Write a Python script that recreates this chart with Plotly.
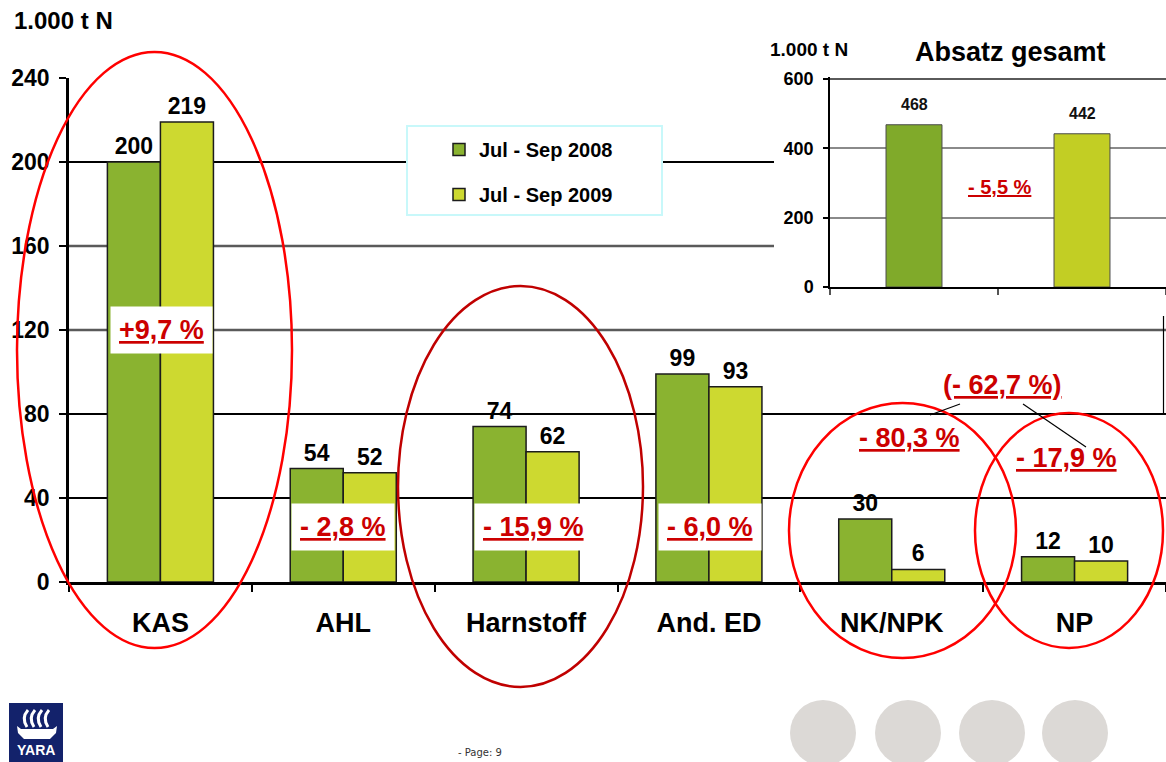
import plotly.graph_objects as go

W, H = 1166, 762
FONT = "Liberation Sans, Arial, sans-serif"

# --- data -------------------------------------------------------------
categories = ["KAS", "AHL", "Harnstoff", "And. ED", "NK/NPK", "NP"]
q3_2008 = [200, 54, 74, 99, 30, 12]
q3_2009 = [219, 52, 62, 93, 6, 10]
series_names = ["Jul - Sep 2008", "Jul - Sep 2009"]

total_periods = ["Q3 2008", "Q3 2009"]
total_sales = [468, 442]

main_ticks = [0, 40, 80, 120, 160, 200, 240]
total_ticks = [0, 200, 400, 600]

boxed_changes = ["+9,7 %", "- 2,8 %", "- 15,9 %", "- 6,0 %"]
npk_changes = ["- 80,3 %", "(- 62,7 %)", "- 17,9 %"]
total_change = "- 5,5 %"

# --- styling ----------------------------------------------------------
C08, C09 = "#8AB330", "#CDD930"
IC08, IC09 = "#80AA2A", "#C2CE24"
RED_TXT = "#CC0000"


def fx(x):
    """pixel column -> paper x"""
    return x / W


def fy(y):
    """pixel row (from top) -> paper y"""
    return 1 - y / H


bold = dict(family=FONT, color="black", weight="bold")

fig = go.Figure()

for vals, name, col, grp in [(q3_2008, series_names[0], C08, "a"),
                             (q3_2009, series_names[1], C09, "b")]:
    fig.add_bar(
        x=categories, y=vals, name=name, legendgroup=grp,
        marker=dict(color=col, line=dict(color="#1c1c1c", width=1.5)),
        text=vals, textposition="outside", constraintext="none",
        textfont=dict(bold, size=23), cliponaxis=False, hoverinfo="skip",
    )

# blank panel that hides the main grid behind the small chart
fig.add_scatter(x=[0], y=[0], xaxis="x2", yaxis="y2", mode="markers",
                marker=dict(opacity=0), showlegend=False, hoverinfo="skip")

# small chart: total sales
fig.add_bar(
    x=total_periods, y=total_sales, xaxis="x3", yaxis="y3", width=0.333,
    marker=dict(color=[IC08, IC09], line=dict(color="#4a4a4a", width=1)),
    showlegend=False, hoverinfo="skip",
)

# small chart: 600 sits at pixel row 79, 0 at row 287 (range padded slightly)
inset_top_val = 606
inset_top_px = 287 - (287 - 79) * inset_top_val / 600
inset_600_px = 287 - (287 - 79) * total_ticks[-1] / 600

shapes = []

# grey tone for two of the main grid lines
for gy in (120, 160):
    shapes.append(dict(type="line", xref="x", yref="y", x0=-0.5, x1=5.5,
                       y0=gy, y1=gy, layer="between",
                       line=dict(color="#5a5a5a", width=2.5)))

# darker top grid line of the small chart
shapes.append(dict(type="line", xref="paper", yref="paper",
                   x0=fx(830), x1=1, y0=fy(inset_600_px), y1=fy(inset_600_px),
                   layer="above", line=dict(color="#5a5a5a", width=2)))

# legend frame
shapes.append(dict(type="rect", xref="paper", yref="paper",
                   x0=fx(407), x1=fx(662), y0=fy(215), y1=fy(126),
                   fillcolor="white", line=dict(color="#c8f8fa", width=2),
                   layer="above"))

# highlight ellipses (pixel boxes)
ellipses = [
    ((17, 52, 292, 648), "#FF0000"),
    ((398, 286, 643, 687), "#C00000"),
    ((789, 403, 1016, 658), "#FF0000"),
    ((975, 413, 1163, 648), "#FF0000"),
]
for (x0, y0, x1, y1), col in ellipses:
    shapes.append(dict(type="circle", xref="paper", yref="paper",
                       x0=fx(x0), x1=fx(x1), y0=fy(y1), y1=fy(y0),
                       line=dict(color=col, width=2.5), layer="above"))

# pointer lines from the combined NK/NPK + NP figure
for (x0, y0, x1, y1) in [(930, 415, 960, 404), (1023, 404, 1086, 447)]:
    shapes.append(dict(type="line", xref="paper", yref="paper",
                       x0=fx(x0), x1=fx(x1), y0=fy(y0), y1=fy(y1),
                       line=dict(color="black", width=1.2), layer="above"))

# thin frame edge at the right border
shapes.append(dict(type="line", xref="paper", yref="paper",
                   x0=fx(1163.5), x1=fx(1163.5), y0=fy(316), y1=fy(414),
                   line=dict(color="black", width=1.2), layer="above"))

# footer: grey dots
for cx in (823, 908, 992, 1075):
    shapes.append(dict(type="circle", xref="paper", yref="paper",
                       x0=fx(cx - 33), x1=fx(cx + 33), y0=fy(766), y1=fy(700),
                       fillcolor="#dcd9d6", line=dict(width=0), layer="below"))

# footer: logo tile
shapes.append(dict(type="rect", xref="paper", yref="paper",
                   x0=fx(9), x1=fx(63), y0=fy(770), y1=fy(703),
                   fillcolor="#13226b", line=dict(width=0), layer="above"))
hull = [(17, 726), (21, 729), (53, 729), (57, 726), (56, 733), (50, 739),
        (24, 739), (18, 733)]
shapes.append(dict(type="path", xref="paper", yref="paper",
                   path="M" + "L".join(f"{fx(a):.5f},{fy(b):.5f}" for a, b in hull) + "Z",
                   fillcolor="white", line=dict(width=0), layer="above"))
for sx in (24, 31, 38, 45):
    shapes.append(dict(type="path", xref="paper", yref="paper",
                       path=(f"M{fx(sx + 4):.5f},{fy(710):.5f} "
                             f"Q{fx(sx - 3):.5f},{fy(718):.5f} {fx(sx + 3):.5f},{fy(727):.5f}"),
                       line=dict(color="white", width=3), layer="above"))

annotations = []

# boxed change labels over the bar groups
boxed_pos = [(161, 330), (343, 527), (533, 527), (710, 527)]
for txt, (ax, ay) in zip(boxed_changes, boxed_pos):
    annotations.append(dict(
        xref="paper", yref="paper", x=fx(ax), y=fy(ay), text=f"<u>{txt}</u>",
        showarrow=False, xanchor="center", yanchor="middle",
        bgcolor="white", borderpad=8,
        font=dict(family=FONT, size=27, color=RED_TXT, weight="bold")))

free_pos = [(910, 438), (1002, 385), (1066, 458)]
for txt, (ax, ay) in zip(npk_changes, free_pos):
    annotations.append(dict(
        xref="paper", yref="paper", x=fx(ax), y=fy(ay), text=f"<u>{txt}</u>",
        showarrow=False, xanchor="center", yanchor="middle",
        font=dict(family=FONT, size=27, color=RED_TXT, weight="bold")))

annotations.append(dict(
    xref="paper", yref="paper", x=fx(1000), y=fy(187), text=f"<u>{total_change}</u>",
    showarrow=False, xanchor="center", yanchor="middle",
    font=dict(family=FONT, size=20, color=RED_TXT, weight="bold")))

# values on the small chart
for p, v in zip(total_periods, total_sales):
    annotations.append(dict(
        xref="x3", yref="y3", x=p, y=v, text=str(v), showarrow=False,
        yanchor="bottom", yshift=10,
        font=dict(family=FONT, size=16, color="#111", weight="bold")))

# titles and units
annotations += [
    dict(xref="paper", yref="paper", x=fx(12), y=fy(21), text="1.000 t N",
         showarrow=False, xanchor="left", yanchor="middle",
         font=dict(bold, size=24)),
    dict(xref="paper", yref="paper", x=fx(809), y=fy(49), text="1.000 t N",
         showarrow=False, xanchor="center", yanchor="middle",
         font=dict(bold, size=19)),
    dict(xref="paper", yref="paper", x=fx(1010), y=fy(52), text="Absatz gesamt",
         showarrow=False, xanchor="center", yanchor="middle",
         font=dict(bold, size=27)),
    dict(xref="paper", yref="paper", x=fx(480), y=fy(752), text="- Page: 9",
         showarrow=False, xanchor="center", yanchor="middle",
         font=dict(family="DejaVu Sans", size=10, color="#333")),
    dict(xref="paper", yref="paper", x=fx(36), y=fy(750), text="YARA",
         showarrow=False, xanchor="center", yanchor="middle",
         font=dict(family=FONT, size=14, color="white", weight="bold")),
]

fig.update_layout(
    width=W, height=H, autosize=False,
    margin=dict(l=0, r=0, t=0, b=0, pad=0, autoexpand=False),
    paper_bgcolor="white", plot_bgcolor="white",
    barmode="group", bargap=0.42, bargroupgap=0,
    showlegend=True,
    legend=dict(x=fx(439), y=fy(130), xanchor="left", yanchor="top",
                bgcolor="rgba(0,0,0,0)", borderwidth=0,
                font=dict(bold, size=20), tracegroupgap=16, itemwidth=30),
    xaxis=dict(domain=[fx(69), 1], type="category", range=[-0.5, 5.5],
               showline=True, linecolor="black", linewidth=2.5,
               ticks="outside", ticklen=7, tickwidth=2, tickcolor="black",
               tickson="boundaries", showgrid=False, automargin=False,
               tickfont=dict(bold, size=27), ticklabelstandoff=15),
    yaxis=dict(domain=[fy(582), fy(78)], range=[0, 240], tickvals=main_ticks,
               showline=True, linecolor="black", linewidth=2.5,
               ticks="outside", ticklen=7, tickwidth=2, tickcolor="black",
               showgrid=True, gridcolor="black", gridwidth=2, zeroline=False,
               automargin=False,
               tickfont=dict(bold, size=23), ticklabelstandoff=5),
    xaxis2=dict(domain=[fx(774), 1], anchor="y2", visible=False),
    yaxis2=dict(domain=[fy(322), fy(36)], anchor="x2", visible=False),
    xaxis3=dict(domain=[fx(830), 1], anchor="y3", type="category",
                range=[-0.5, 1.5], showline=True, linecolor="black",
                linewidth=1.5, ticks="outside", ticklen=6, tickwidth=1.5,
                tickcolor="#555", tickson="boundaries", showticklabels=False,
                showgrid=False, automargin=False),
    yaxis3=dict(domain=[fy(287), fy(inset_top_px)], anchor="x3",
                range=[0, inset_top_val],
                tickvals=total_ticks, showline=True, linecolor="black",
                linewidth=1.5, ticks="outside", ticklen=5, tickwidth=1.5,
                tickcolor="black", showgrid=True, gridcolor="#8a8a8a",
                gridwidth=1.5, zeroline=False, automargin=False,
                tickfont=dict(bold, size=18), ticklabelstandoff=6),
    shapes=shapes,
    annotations=annotations,
)

fig.write_html("out.html")
